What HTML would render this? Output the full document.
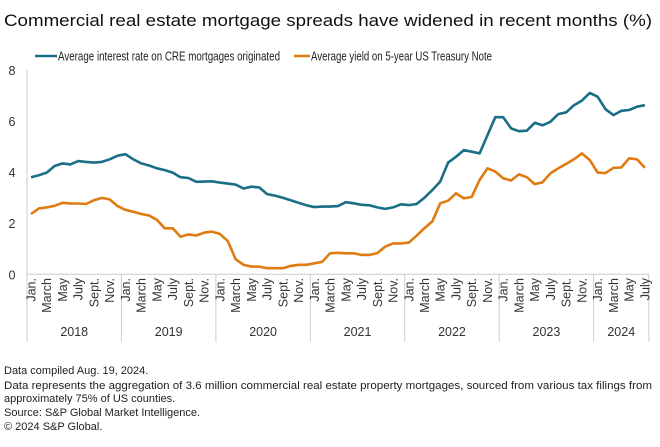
<!DOCTYPE html>
<html><head><meta charset="utf-8"><style>
body{margin:0;background:#fff;}
svg{display:block;font-family:"Liberation Sans",sans-serif;}
</style></head><body>
<svg id="chart" width="660" height="447" viewBox="0 0 660 447">
<text x="4" y="26" font-size="17" textLength="648" lengthAdjust="spacingAndGlyphs" fill="#111">Commercial real estate mortgage spreads have widened in recent months (%)</text>
<g>
<line x1="35" y1="56" x2="57" y2="56" stroke="#1a6e86" stroke-width="2.5"/>
<text x="58" y="60.5" font-size="13" textLength="222" lengthAdjust="spacingAndGlyphs" fill="#222">Average interest rate on CRE mortgages originated</text>
<line x1="294" y1="56" x2="310" y2="56" stroke="#e07b10" stroke-width="2.5"/>
<text x="311" y="60.5" font-size="13" textLength="181" lengthAdjust="spacingAndGlyphs" fill="#222">Average yield on 5-year US Treasury Note</text>
</g>
<g id="axes"></g>
<g id="series"></g>
<g font-size="11" fill="#222">
<text x="4" y="374">Data compiled Aug. 19, 2024.</text>
<text x="4" y="389" textLength="648" lengthAdjust="spacingAndGlyphs">Data represents the aggregation of 3.6 million commercial real estate property mortgages, sourced from various tax filings from</text>
<text x="4" y="402">approximately 75% of US counties.</text>
<text x="4" y="416">Source: S&amp;P Global Market Intelligence.</text>
<text x="4" y="430">© 2024 S&amp;P Global.</text>
</g>
</svg>
<script>
const years = ["2018","2019","2020","2021","2022","2023","2024"];
const monthLabels = ["Jan.","","March","","May","","July","","Sept.","","Nov.",""];
const yTicks = [0,2,4,6,8];
const creRate = [3.8,3.88,3.98,4.24,4.34,4.3,4.43,4.4,4.37,4.4,4.5,4.64,
4.7,4.5,4.34,4.26,4.15,4.08,3.98,3.8,3.77,3.62,3.63,3.64,
3.59,3.55,3.51,3.36,3.43,3.4,3.14,3.08,3.0,2.9,2.8,2.7,
2.63,2.65,2.65,2.67,2.82,2.78,2.72,2.7,2.62,2.56,2.62,2.74,
2.71,2.75,3.0,3.3,3.63,4.37,4.6,4.86,4.8,4.73,5.45,6.15,
6.15,5.71,5.6,5.62,5.93,5.83,5.97,6.27,6.34,6.62,6.8,7.1,
6.95,6.46,6.23,6.4,6.43,6.56,6.62];
const treasuryYield = [2.36,2.58,2.62,2.68,2.8,2.77,2.77,2.75,2.9,2.99,2.93,2.67,
2.52,2.45,2.36,2.3,2.13,1.8,1.8,1.47,1.56,1.52,1.63,1.67,
1.58,1.3,0.59,0.37,0.3,0.3,0.24,0.24,0.24,0.33,0.37,0.37,
0.43,0.49,0.82,0.84,0.82,0.82,0.76,0.76,0.83,1.08,1.21,1.21,
1.24,1.51,1.81,2.07,2.78,2.88,3.17,2.97,3.03,3.69,4.15,4.02,
3.76,3.67,3.91,3.8,3.53,3.6,3.95,4.15,4.32,4.5,4.73,4.47,
3.98,3.96,4.17,4.18,4.54,4.5,4.17];
const NS="http://www.w3.org/2000/svg";
const x0=31, dx=7.87, yBase=274.3, yScale=25.55;
const xPos=i=>x0+i*dx;
const yPos=v=>yBase-v*yScale;
function mk(tag,attrs,parent){const e=document.createElementNS(NS,tag);for(const k in attrs)e.setAttribute(k,attrs[k]);parent.appendChild(e);return e;}
const axes=document.getElementById('axes');
const series=document.getElementById('series');
yTicks.forEach(t=>{
  const tx=mk('text',{x:12,y:yPos(t)+5,'font-size':12.5,fill:'#333','text-anchor':'middle'},axes);
  tx.textContent=t;
  
  
});
const n=creRate.length;
const base=mk('line',{x1:27,y1:yBase,x2:x0+(n-1)*dx+4,y2:yBase,stroke:'#ccc','stroke-width':1},axes);


const yAx=mk('line',{x1:27,y1:70,x2:27,y2:yBase,stroke:'#ccc','stroke-width':1},axes);


for(let yi=0;yi<=years.length;yi++){
  const xs=x0-4+yi*12*dx;
  const last=yi===years.length;
  const xx=last?x0+(n-1)*dx+4:xs;
  const sep=mk('line',{x1:xx,y1:yBase,x2:xx,y2:342,stroke:'#ccc','stroke-width':1},axes);
  
  
  if(!last){
    const endX=Math.min(xs+12*dx, x0+(n-1)*dx+4);
    const yl=mk('text',{x:(xs+endX)/2,y:336,'font-size':12.5,fill:'#333','text-anchor':'middle'},axes);
    yl.textContent=years[yi];
    
    
  }
}
for(let i=0;i<n;i++){
  const lab=monthLabels[i%12];
  if(!lab)continue;
  const px=xPos(i)+4.5;
  const ml=mk('text',{x:0,y:0,'font-size':12.5,fill:'#333','text-anchor':'end',transform:`translate(${px},278) rotate(-90)`},axes);
  ml.textContent=lab;
  
  
}
function line(data,color,name){
  const d=data.map((v,i)=>(i?'L':'M')+xPos(i).toFixed(1)+','+yPos(v).toFixed(1)).join(' ');
  const p=mk('path',{d:d,fill:'none',stroke:color,'stroke-width':2.6,'stroke-linejoin':'round'},series);
  
  
}
line(creRate,'#1a6e86','cre-rate-line');
line(treasuryYield,'#e07b10','treasury-yield-line');
</script>
</body></html>
